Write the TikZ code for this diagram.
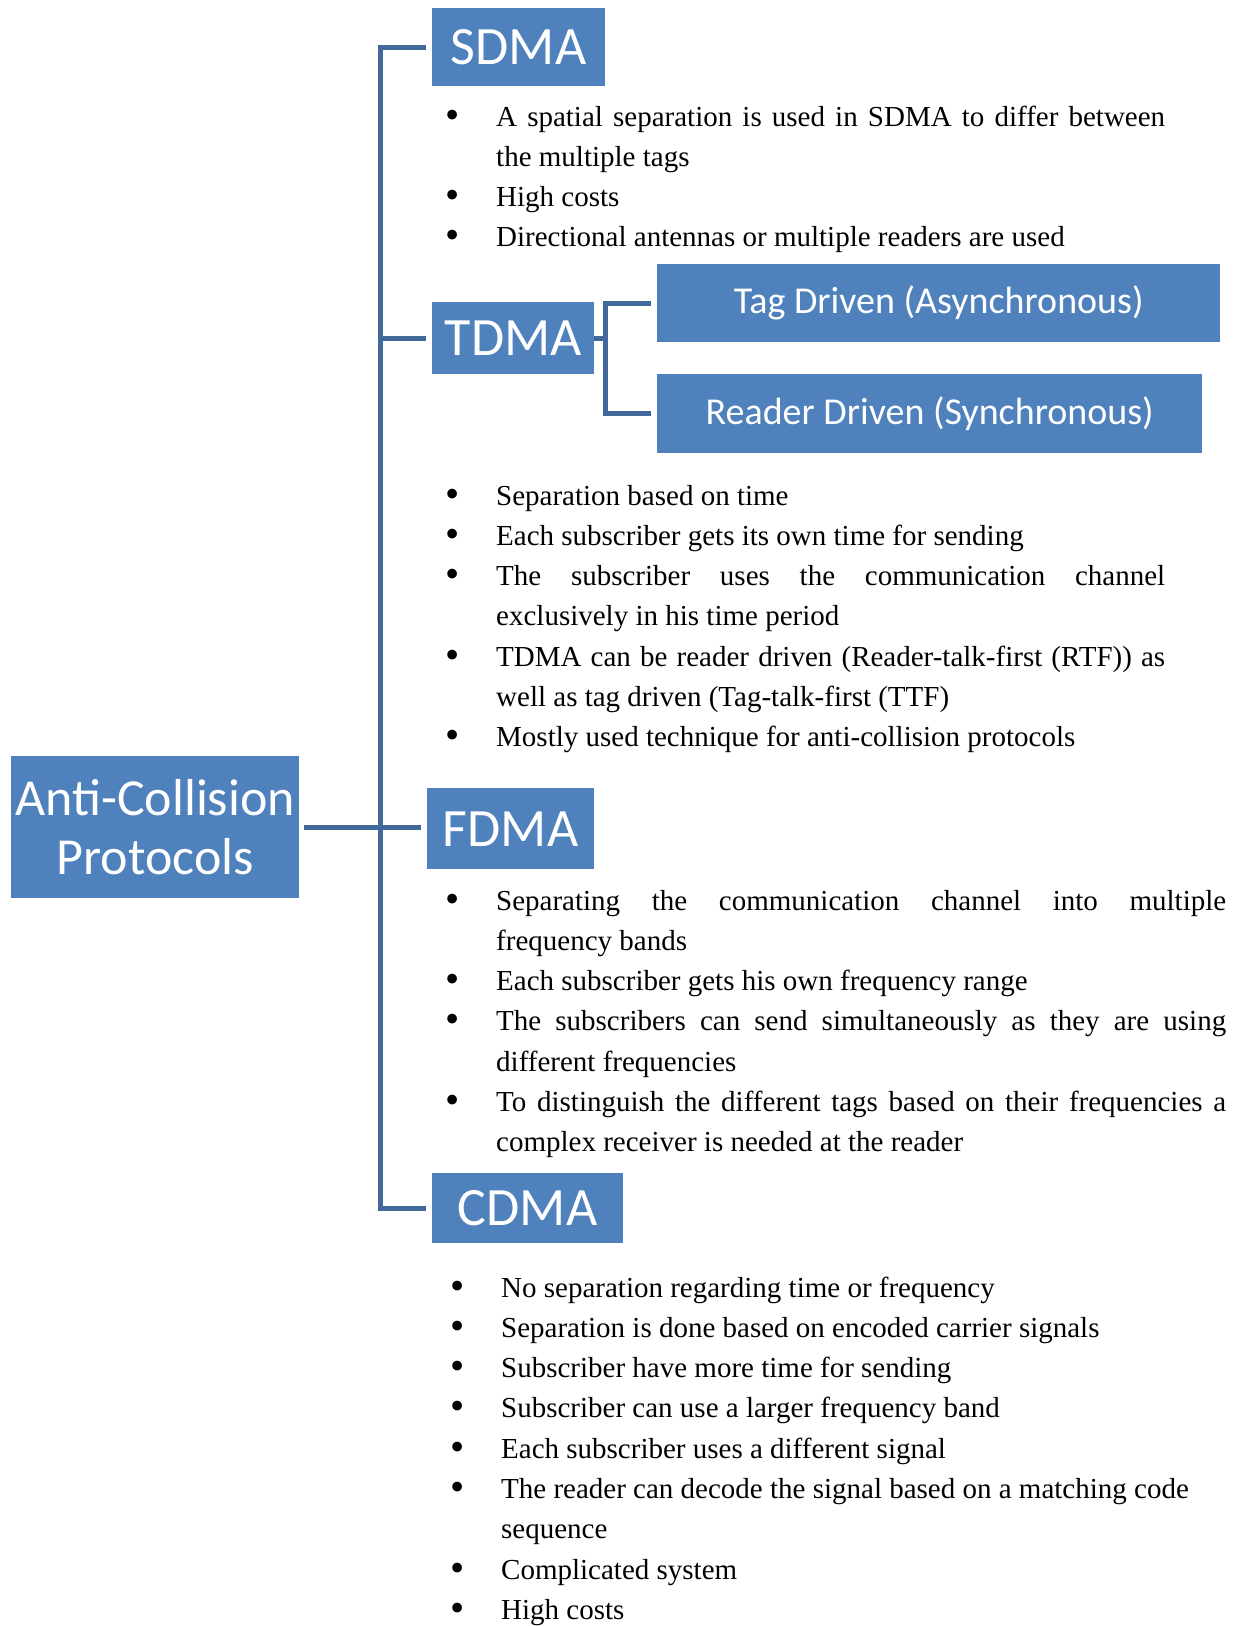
\documentclass[tikz,border=0pt]{standalone}
\usepackage{fontspec}
\setmainfont{Liberation Serif}
\newfontfamily\boxfont{Carlito}
\definecolor{boxblue}{HTML}{4F81BD}
\definecolor{linkblue}{HTML}{41699B}
% bullet mark, a little larger than the font's own
\newcommand\bulmark{\raisebox{-0.07em}{\scalebox{1.4}{\textbullet}}}
% one bulleted item: the bullet hangs to the left of the text column
\newcommand\bulfirst{\noindent\llap{\bulmark\hspace{36pt}}}
\newcommand\bul{\par\bulfirst}
\newcommand\notesfont{\fontsize{29pt}{40.3pt}\selectfont\hyphenpenalty=10000\tolerance=9999}
\begin{document}
\begin{tikzpicture}[x=1pt,y=-1pt,
  box/.style={fill=boxblue, text=white, inner sep=0pt, anchor=north west, align=center},
  bigbox/.style={box, font={\boxfont\fontsize{54pt}{59pt}\selectfont}},
  rootbox/.style={box, font={\boxfont\fontsize{52pt}{59pt}\selectfont}},
  subbox/.style={box, font={\boxfont\fontsize{38pt}{44pt}\selectfont}},
  conn/.style={draw=linkblue, line width=5pt},
  notes/.style={anchor=base west, inner sep=0pt, text width=#1, align=justify, font=\notesfont}]
\useasboundingbox[fill=white] (0,0) rectangle (1238,1626);

% guide positions of the two vertical bars
\coordinate (trunk) at (380,0);
\coordinate (sub) at (605,0);

% boxes
\node[rootbox, minimum width=288pt, minimum height=142pt] (root) at (11,756) {Anti-Collision\\Protocols};
\node[bigbox, minimum width=173pt, minimum height=78pt] (sdma) at (432,8) {SDMA};
\node[bigbox, minimum width=162pt, minimum height=72pt] (tdma) at (432,302) {TDMA};
\node[bigbox, minimum width=167pt, minimum height=81pt] (fdma) at (427,788) {FDMA};
\node[bigbox, minimum width=191pt, minimum height=70pt] (cdma) at (432,1173) {CDMA};
\node[subbox, minimum width=563pt, minimum height=78pt] (tag) at (657,264) {Tag Driven (Asynchronous)};
\node[subbox, minimum width=545pt, minimum height=79pt] (reader) at (657,374) {Reader Driven (Synchronous)};

% connectors
\draw[conn] ([xshift=-6pt]sdma.west) -- (sdma.west -| trunk) -- (cdma.west -| trunk) -- ([xshift=-6pt]cdma.west);
\draw[conn] ([xshift=-6pt]tdma.west) -- (tdma.west -| trunk);
\draw[conn] ([xshift=5pt]root.east) -- ([xshift=-6pt]root.east -| fdma.west);
\draw[conn] (tdma.east) -- (tdma.east -| sub);
\draw[conn] ([xshift=-6pt]tag.west) -- (tag.west -| sub) -- (reader.west -| sub) -- ([xshift=-6pt]reader.west);

% notes
\node[notes=669pt] (sdmanotes) at (496,126) {%
\bulfirst A spatial separation is used in SDMA to differ between\linebreak the multiple tags
\bul High costs
\bul Directional antennas or multiple readers are used};

\node[notes=669pt] (tdmanotes) at (496,505) {%
\bulfirst Separation based on time
\bul Each subscriber gets its own time for sending
\bul The subscriber uses the communication channel\linebreak exclusively in his time period
\bul TDMA can be reader driven (Reader-talk-first (RTF)) as\linebreak well as tag driven (Tag-talk-first (TTF)
\bul Mostly used technique for anti-collision protocols};

\node[notes=730pt] (fdmanotes) at (496,910) {%
\bulfirst Separating the communication channel into multiple\linebreak frequency bands
\bul Each subscriber gets his own frequency range
\bul The subscribers can send simultaneously as they are using\linebreak different frequencies
\bul To distinguish the different tags based on their frequencies a\linebreak complex receiver is needed at the reader};

\node[notes=725pt] (cdmanotes) at (501,1297) {%
\bulfirst No separation regarding time or frequency
\bul Separation is done based on encoded carrier signals
\bul Subscriber have more time for sending
\bul Subscriber can use a larger frequency band
\bul Each subscriber uses a different signal
\bul The reader can decode the signal based on a matching code\\sequence
\bul Complicated system
\bul High costs};
\end{tikzpicture}
\end{document}
